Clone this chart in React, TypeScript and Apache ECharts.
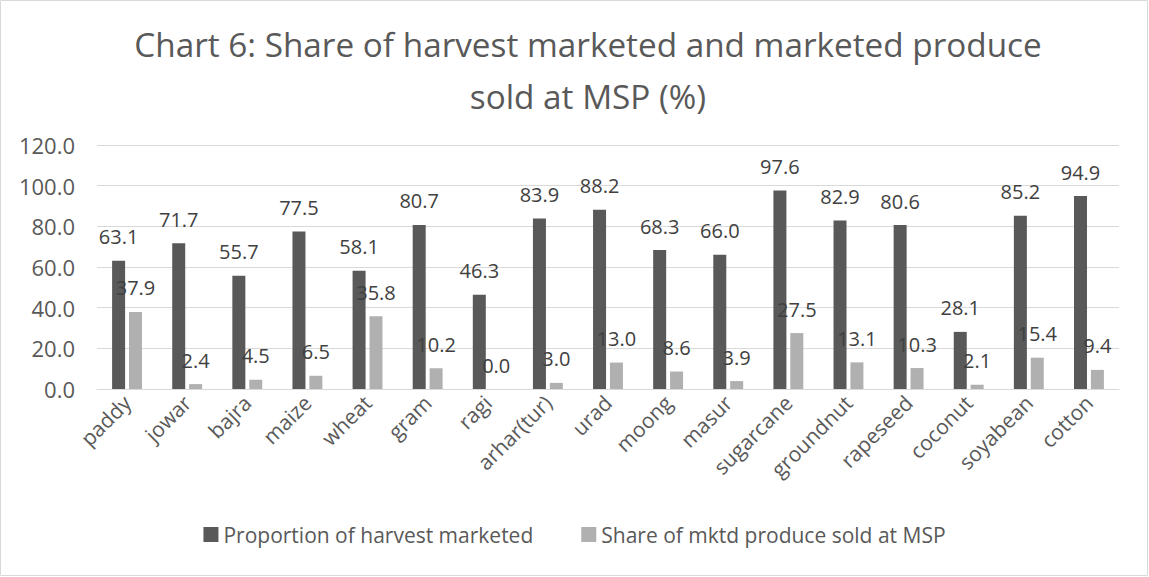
import React, { useEffect, useRef } from "react";
import * as echarts from "echarts";

const categories = ["paddy", "jowar", "bajra", "maize", "wheat", "gram", "ragi", "arhar(tur)", "urad", "moong", "masur", "sugarcane", "groundnut", "rapeseed", "coconut", "soyabean", "cotton"];
const marketed = [63.1, 71.7, 55.7, 77.5, 58.1, 80.7, 46.3, 83.9, 88.2, 68.3, 66.0, 97.6, 82.9, 80.6, 28.1, 85.2, 94.9];
const soldAtMsp = [37.9, 2.4, 4.5, 6.5, 35.8, 10.2, 0.0, 3.0, 13.0, 8.6, 3.9, 27.5, 13.1, 10.3, 2.1, 15.4, 9.4];
const seriesNames = ["Proportion of harvest marketed", "Share of mktd produce sold at MSP"];
const titleText = "Chart 6: Share of harvest marketed and marketed produce\nsold at MSP (%)";

const FONT = "'Open Sans', sans-serif";

export default function App() {
  const ref = useRef<HTMLDivElement>(null);
  useEffect(() => {
    if (!ref.current) return;
    const chart = echarts.init(ref.current, undefined, { renderer: "svg" });
    const labelCfg = {
      show: true,
      position: "top",
      distance: 14,
      color: "#404040",
      fontSize: 20,
      fontFamily: FONT,
      formatter: (p: any) => Number(p.value).toFixed(1),
    };
    chart.setOption({
      animation: false,
      backgroundColor: "#ffffff",
      textStyle: { fontFamily: FONT },
      title: {
        text: titleText,
        left: 583,
        textAlign: "center",
        top: 13,
        textStyle: { fontSize: 33.3, fontWeight: "normal", color: "#595959", fontFamily: FONT, lineHeight: 52 },
      },
      graphic: [
        {
          type: "rect",
          shape: { x: 0.5, y: 0.5, width: 1147, height: 575 },
          style: { fill: "none", stroke: "#d9d9d9", lineWidth: 1 },
          silent: true,
        },
      ],
      legend: {
        bottom: 27,
        left: "center",
        itemWidth: 15,
        itemHeight: 15,
        itemGap: 48,
        icon: "rect",
        textStyle: { fontSize: 21, color: "#595959", fontFamily: FONT },
        data: seriesNames,
      },
      grid: { left: 97, right: 30, top: 145, bottom: 188, containLabel: false },
      xAxis: {
        type: "category",
        data: categories,
        axisLine: { lineStyle: { color: "#d9d9d9" } },
        axisTick: { show: false },
        axisLabel: { rotate: 45, interval: 0, fontSize: 21, color: "#595959", fontFamily: FONT, margin: 10 },
      },
      yAxis: {
        type: "value",
        min: 0,
        max: 120,
        interval: 20,
        axisLine: { show: false },
        axisTick: { show: false },
        splitLine: { lineStyle: { color: "#d9d9d9" } },
        axisLabel: { fontSize: 22, color: "#595959", fontFamily: FONT, margin: 22, formatter: (v: number) => v.toFixed(1) },
      },
      series: [
        {
          name: seriesNames[0],
          type: "bar",
          data: marketed,
          barWidth: 13,
          barGap: "30%",
          itemStyle: { color: "#595959" },
          label: labelCfg,
        },
        {
          name: seriesNames[1],
          type: "bar",
          data: soldAtMsp,
          barWidth: 13,
          barGap: "30%",
          itemStyle: { color: "#b0b0b0" },
          label: labelCfg,
        },
      ],
    });
    return () => chart.dispose();
  }, []);
  return (
    <div style={{ position: "absolute", left: 0, top: 0 }}>
      <div ref={ref} style={{ width: 1149, height: 577 }} />
    </div>
  );
}
